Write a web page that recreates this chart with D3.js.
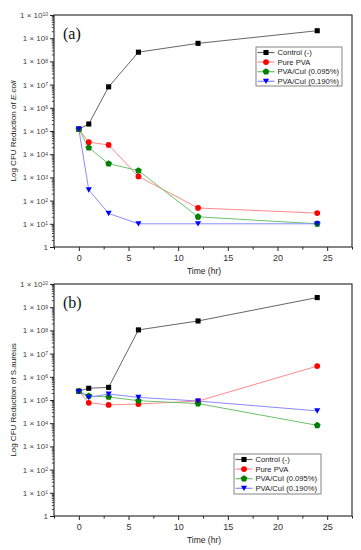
<!DOCTYPE html>
<html><head><meta charset="utf-8">
<script src="https://cdn.jsdelivr.net/npm/d3@7"></script>
<style>body{margin:0;background:#fff}svg{display:block}</style>
</head><body>
<script>
const times = [0, 1, 3, 6, 12, 24];
const seriesNames = ["Control (-)", "Pure PVA", "PVA/CuI (0.095%)", "PVA/CuI (0.190%)"];
// Panel (a) E. coli
const ecoliControl = [1.2e5, 2.0e5, 8.0e6, 2.5e8, 6.0e8, 2.1e9];
const ecoliPVA     = [1.2e5, 3.3e4, 2.5e4, 1.1e3, 48, 29];
const ecoliCuI095  = [1.2e5, 1.9e4, 3.9e3, 1.95e3, 20, 10];
const ecoliCuI190  = [1.2e5, 290, 28, 10, 10, 10];
// Panel (b) S. aureus
const saurControl = [2.4e5, 3.2e5, 3.5e5, 1.05e8, 2.55e8, 2.6e9];
const saurPVA     = [2.4e5, 7.6e4, 6.1e4, 6.7e4, 9.0e4, 2.9e6];
const saurCuI095  = [2.4e5, 1.5e5, 1.35e5, 9.3e4, 7.0e4, 8.1e3];
const saurCuI190  = [2.3e5, 1.3e5, 1.8e5, 1.3e5, 9.0e4, 3.4e4];
const xTicks = [0, 5, 10, 15, 20, 25];
const yExponents = [0, 1, 2, 3, 4, 5, 6, 7, 8, 9, 10];

const W = 361, H = 550;
const svg = d3.select("body").append("svg").attr("width", W).attr("height", H);

const lineColors = ["#666666", "#ff8a8a", "#6cc26c", "#8a8aff"];
const markColors = ["#000000", "#ff0000", "#008000", "#0000ff"];

const pentagon = {draw(ctx, size){
  const r = Math.sqrt(size / 2.4);
  for (let i = 0; i < 5; i++) {
    const a = -Math.PI/2 + i * 2*Math.PI/5;
    const x = r*Math.cos(a), y = r*Math.sin(a);
    if (i === 0) ctx.moveTo(x, y); else ctx.lineTo(x, y);
  }
  ctx.closePath();
}};
const triDown = {draw(ctx, size){
  const r = Math.sqrt(size / 1.3);
  ctx.moveTo(-r*0.6, -r*0.5); ctx.lineTo(r*0.6, -r*0.5); ctx.lineTo(0, r*0.55); ctx.closePath();
}};
const symTypes = [d3.symbolSquare, d3.symbolCircle, pentagon, triDown];
const symSizes = [26, 26, 30, 34];

function panel(cfg){
  const left = 54, right = 352, top = cfg.top, bottom = cfg.bottom;
  const x = d3.scaleLinear().domain([-2.5, 27.5]).range([left, right]);
  const y = d3.scaleLog().domain([1, 1e10]).range([bottom, top]);
  const g = svg.append("g");

  // frame
  g.append("rect").attr("x", left).attr("y", top).attr("width", right-left).attr("height", bottom-top)
    .attr("fill", "none").attr("stroke", "#222").attr("stroke-width", 1.1);

  // x axis
  const xa = g.append("g").attr("transform", `translate(0,${bottom})`)
    .call(d3.axisBottom(x).tickValues(xTicks).tickSize(4).tickPadding(4).tickFormat(d3.format("d")));
  xa.select(".domain").remove();
  xa.selectAll("line").attr("stroke", "#222");
  xa.selectAll("text").attr("font-family", "Liberation Sans, Arial").attr("font-size", 9).attr("fill", "#333");
  const xMinor = d3.range(-2.5, 27.6, 2.5).filter(v => v % 5 !== 0);
  g.append("g").attr("transform", `translate(0,${bottom})`)
    .call(d3.axisBottom(x).tickValues(xMinor).tickSize(2.5).tickFormat(""))
    .call(s => { s.select(".domain").remove(); s.selectAll("line").attr("stroke", "#222"); });

  // y axis major
  const ya = g.append("g").attr("transform", `translate(${left},0)`)
    .call(d3.axisLeft(y).tickValues(yExponents.map(e => Math.pow(10, e))).tickSize(4).tickPadding(3).tickFormat(""));
  ya.select(".domain").remove();
  ya.selectAll("line").attr("stroke", "#222");
  ya.selectAll(".tick").each(function(d){
    const e = Math.round(Math.log10(d));
    const t = d3.select(this).append("text").attr("x", -6).attr("dy", "0.32em")
      .attr("text-anchor", "end").attr("font-family", "Liberation Sans, Arial")
      .attr("font-size", 8).attr("fill", "#444");
    if (e === 0) { t.text("1"); }
    else {
      t.append("tspan").text("1 × 10");
      t.append("tspan").attr("font-size", 5).attr("dy", "-0.35em").text(e);
    }
  });
  // y minor
  const yMinor = [];
  for (let e = 0; e < 10; e++) for (let m = 2; m <= 9; m++) yMinor.push(m * Math.pow(10, e));
  g.append("g").attr("transform", `translate(${left},0)`)
    .call(d3.axisLeft(y).tickValues(yMinor).tickSize(2.2).tickFormat(""))
    .call(s => { s.select(".domain").remove(); s.selectAll("line").attr("stroke", "#222").attr("stroke-width", 0.8); });

  // axis titles
  g.append("text").attr("x", (left+right)/2 + 1).attr("y", bottom + 27).attr("text-anchor", "middle")
    .attr("font-family", "Liberation Sans, Arial").attr("font-size", 8.5).attr("fill", "#222").text("Time (hr)");
  const yl = g.append("text").attr("transform", `translate(16,${(top+bottom)/2}) rotate(-90)`)
    .attr("text-anchor", "middle").attr("font-family", "Liberation Sans, Arial").attr("font-size", 8).attr("fill", "#222");
  yl.append("tspan").text(cfg.ylabel[0]);
  yl.append("tspan").attr("font-style", cfg.ylabel[2] ? "italic" : "normal").text(cfg.ylabel[1]);

  // panel label
  g.append("text").attr("x", 63).attr("y", top + 24).attr("font-family", "Liberation Serif, Times New Roman")
    .attr("font-size", 16).attr("fill", "#111").text(cfg.label);

  // series
  const line = d3.line().x((d, i) => x(times[i])).y(d => y(d));
  cfg.series.forEach((vals, k) => {
    g.append("path").datum(vals).attr("d", line).attr("fill", "none")
      .attr("stroke", lineColors[k]).attr("stroke-width", 1);
  });
  cfg.series.forEach((vals, k) => {
    g.selectAll(null).data(vals).enter().append("path")
      .attr("transform", (d, i) => `translate(${x(times[i])},${y(d)})`)
      .attr("d", d3.symbol().type(symTypes[k]).size(symSizes[k]))
      .attr("fill", markColors[k]);
  });

  // legend
  const L = cfg.legend;
  g.append("rect").attr("x", L.x).attr("y", L.y).attr("width", L.w).attr("height", L.h)
    .attr("fill", "#fff").attr("stroke", "#777").attr("stroke-width", 0.9);
  seriesNames.forEach((name, k) => {
    const ry = L.y + 5.5 + k * 9.6;
    g.append("line").attr("x1", L.x + 1.5).attr("x2", L.x + 18.5).attr("y1", ry).attr("y2", ry)
      .attr("stroke", lineColors[k]).attr("stroke-width", 1.2);
    g.append("path").attr("transform", `translate(${L.x + 10},${ry})`)
      .attr("d", d3.symbol().type(symTypes[k]).size(symSizes[k]))
      .attr("fill", markColors[k]);
    g.append("text").attr("x", L.x + 21.5).attr("y", ry).attr("dy", "0.35em")
      .attr("font-family", "Liberation Sans, Arial").attr("font-size", 7.6).attr("fill", "#222").text(name);
  });
}

panel({top: 15, bottom: 247, label: "(a)", ylabel: ["Log CFU Reduction of  ", "E.coli", true],
  series: [ecoliControl, ecoliPVA, ecoliCuI095, ecoliCuI190],
  legend: {x: 256, y: 47, w: 86, h: 39}});
panel({top: 284, bottom: 516, label: "(b)", ylabel: ["Log CFU Reduction of ", "S.aureus", false],
  series: [saurControl, saurPVA, saurCuI095, saurCuI190],
  legend: {x: 234, y: 454, w: 87, h: 40}});
</script>
</body></html>
